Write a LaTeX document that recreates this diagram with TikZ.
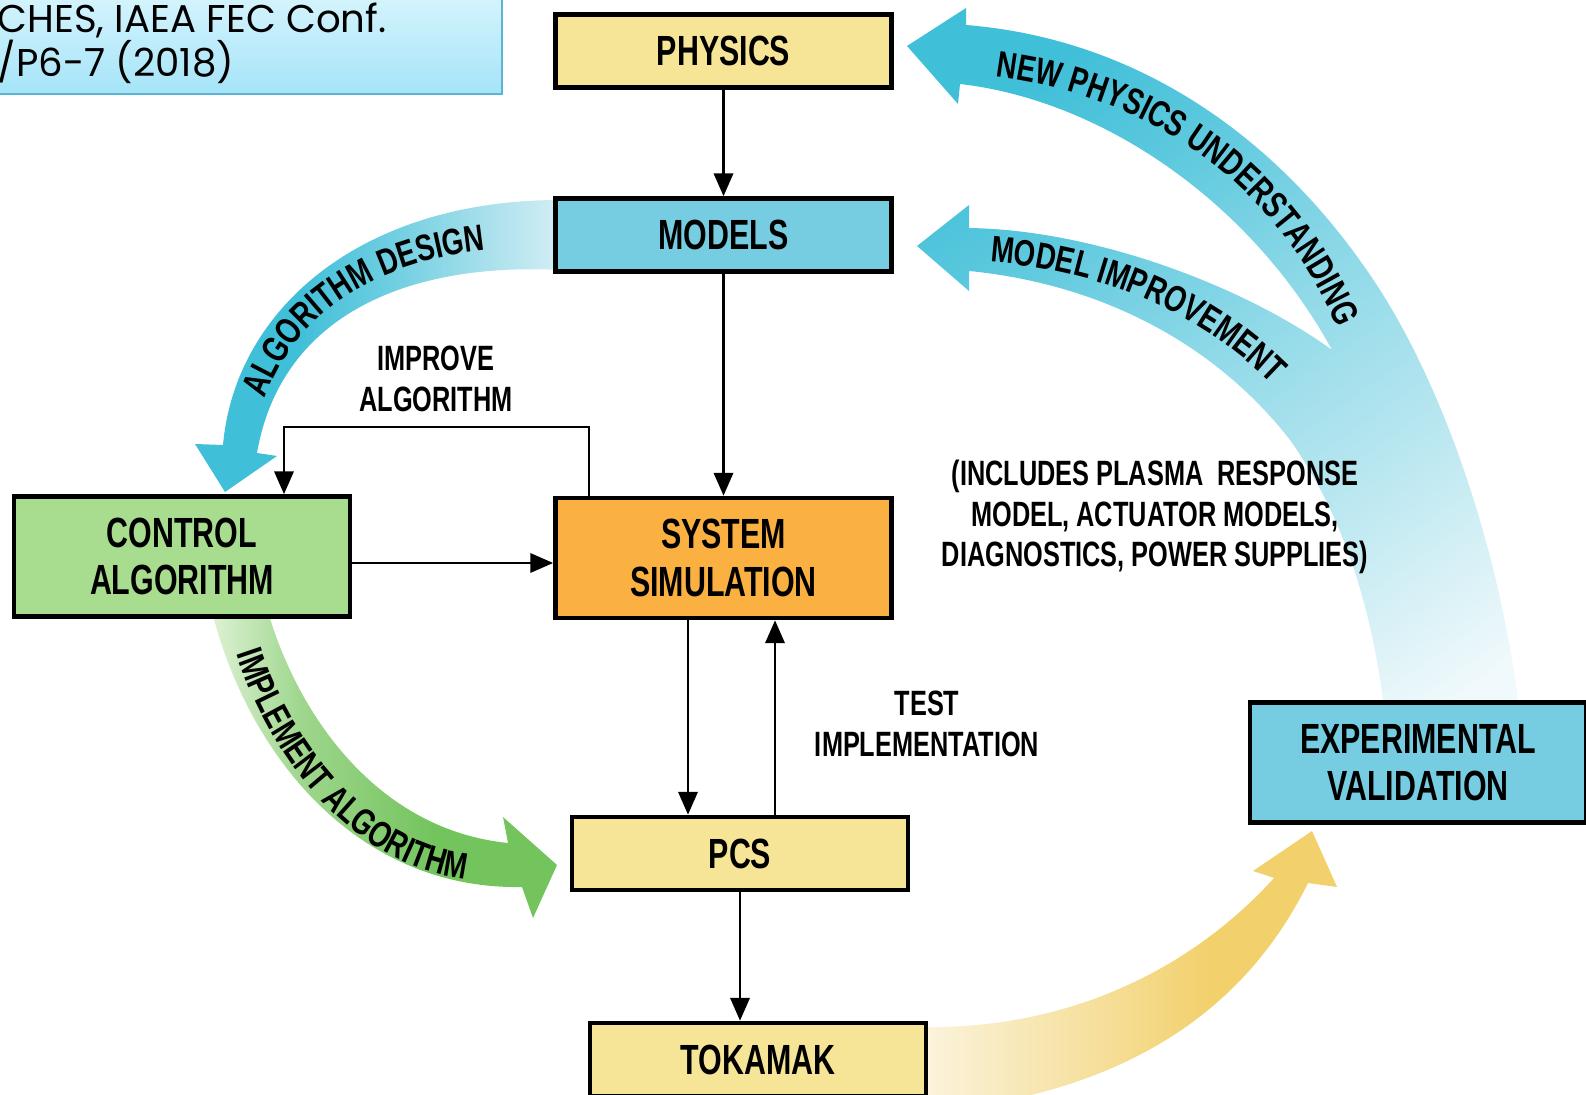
\documentclass[tikz,border=0pt]{standalone}
\usepackage{fontspec}
\setmainfont{Liberation Sans}
\newfontfamily\boxfont[FakeStretch=0.72]{Liberation Sans Bold}
\newfontfamily\arrowfont[FakeStretch=0.75]{Liberation Sans Bold}
\newfontfamily\citefont{Poppins}
\usetikzlibrary{arrows.meta, positioning, calc, decorations.text}
\definecolor{boxyellow}{RGB}{247,229,151}
\definecolor{boxcyan}{RGB}{118,205,226}
\definecolor{boxgreen}{RGB}{168,220,143}
\definecolor{boxorange}{RGB}{251,176,66}
\definecolor{flowcyan}{RGB}{64,191,216}
\definecolor{flowpale}{RGB}{240,249,251}
\definecolor{designpale}{RGB}{212,238,244}
\definecolor{greendark}{RGB}{116,196,94}
\definecolor{greenpale}{RGB}{221,241,211}
\definecolor{golddark}{RGB}{242,208,107}
\definecolor{goldpale}{RGB}{251,244,222}
\definecolor{citetop}{RGB}{216,245,253}
\definecolor{citebottom}{RGB}{165,228,248}
\definecolor{citeedge}{RGB}{90,180,214}
\colorlet{designmid}{flowcyan!65!designpale}
\colorlet{greenmid}{greendark!60!greenpale}
\colorlet{goldmid}{golddark!60!goldpale}
\colorlet{flowlight}{flowcyan!30!flowpale}
\colorlet{flowmid}{flowcyan!55!flowpale}
\colorlet{flowdeep}{flowcyan!85!flowpale}
\pgfdeclarehorizontalshading{designfade}{100bp}{color(0bp)=(flowcyan); color(39bp)=(flowcyan); color(53bp)=(designmid); color(75bp)=(designpale); color(100bp)=(designpale)}
\pgfdeclarehorizontalshading{implfade}{100bp}{color(0bp)=(greenpale); color(25bp)=(greenpale); color(38bp)=(greenmid); color(57bp)=(greendark); color(100bp)=(greendark)}
\pgfdeclarehorizontalshading{goldfade}{100bp}{color(0bp)=(goldpale); color(25bp)=(goldpale); color(47bp)=(goldmid); color(60bp)=(golddark); color(100bp)=(golddark)}
\pgfdeclareverticalshading{feedbackfade}{100bp}{color(0bp)=(flowpale); color(18bp)=(flowpale); color(35bp)=(flowlight); color(50bp)=(flowmid); color(65bp)=(flowdeep); color(75bp)=(flowcyan); color(100bp)=(flowcyan)}

\begin{document}
\begin{tikzpicture}[x=0.01cm, y=-0.01cm,
    block/.style={draw, line width=1.3pt, minimum width=3.36cm, minimum height=0.73cm, inner sep=0pt, align=center, font=\boxfont\fontsize{12}{13.5}\selectfont},
    tallblock/.style={block, minimum height=1.2cm},
    link/.style={-{Triangle[length=6.5pt,width=5.5pt]}, line width=0.7pt},
    note/.style={align=center, font=\boxfont\fontsize{10}{11.5}\selectfont},
    flowtext/.style={decorate, decoration={text along path, text align=center, text={|\arrowfont\fontsize{10.5}{11}\selectfont|#1}}}]
    \useasboundingbox (0,0) rectangle (1586,1095);

    % Wide flow arrows
    \shade[shading=designfade] (225,492) -- (195,444) -- (223,445) .. controls (235,310) and (360,200) .. (560,200) -- (560,270) .. controls (400,262) and (280,320) .. (257,453) -- (277,456) -- cycle;
    \shade[shading=implfade] (212,612) .. controls (250,760) and (360,890) .. (522,887) -- (533,918) -- (557,865) -- (503,817) -- (508,843) .. controls (380,830) and (300,720) .. (268,612) -- cycle;
    \shade[shading=goldfade] (920,1027) .. controls (1080,1030) and (1200,960) .. (1274,878) -- (1253,871) -- (1312,831) -- (1337,887) -- (1308,883) .. controls (1250,1000) and (1150,1070) .. (1010,1100) -- (920,1100) -- cycle;
    \shade[shading=feedbackfade, shading angle=35] (917,246) -- (969,205) -- (969,228) .. controls (1100,230) and (1250,290) .. (1332,350)
        .. controls (1250,200) and (1100,100) .. (960,84) -- (958,104) -- (907,46) -- (966,8) -- (966,25)
        .. controls (1150,40) and (1290,150) .. (1380,290) .. controls (1450,400) and (1500,560) .. (1518,700)
        -- (1383,700) .. controls (1370,600) and (1340,510) .. (1290,440) .. controls (1220,350) and (1110,285) .. (969,271)
        -- (969,291) -- cycle;

    % Texts on the flow arrows
    \path[flowtext={ALGORITHM DESIGN}] (253,452) .. controls (268,318) and (380,246) .. (540,248);
    \path[flowtext={IMPLEMENT ALGORITHM}] (229,630) .. controls (262,755) and (360,882) .. (490,880);
    \path[flowtext={NEW PHYSICS UNDERSTANDING}] (975,74) .. controls (1150,90) and (1285,187) .. (1345,347);
    \path[flowtext={MODEL IMPROVEMENT}] (990,262) .. controls (1100,270) and (1200,312) .. (1272,384);

    % Blocks
    \node[block, fill=boxyellow] (physics) at (723.5,51) {PHYSICS};
    \node[block, fill=boxcyan] (models) at (723.5,235) {MODELS};
    \node[tallblock, fill=boxgreen] (control) at (182,556.5) {CONTROL\\ALGORITHM};
    \node[tallblock, fill=boxorange] (sim) at (723.5,558) {SYSTEM\\SIMULATION};
    \node[block, fill=boxyellow] (pcs) at (740,853.5) {PCS};
    \node[block, fill=boxyellow] (tokamak) at (758,1059.5) {TOKAMAK};
    \node[tallblock, fill=boxcyan] (expval) at (1418,762.5) {EXPERIMENTAL\\VALIDATION};

    % Connectors
    \draw[link] (physics) -- (models);
    \draw[link] (models) -- (sim);
    \coordinate (loop) at (589,427);
    \draw[link] (sim.north -| loop) -- (loop) -| ($(control.north)+(102,0)$);
    \coordinate (feed) at (450,563);
    \draw[link] (control.east |- feed) -- (sim.west |- feed);
    \coordinate (down) at (688,700);
    \coordinate (up) at (775,700);
    \draw[link] (sim.south -| down) -- (pcs.north -| down);
    \draw[link] (pcs.north -| up) -- (sim.south -| up);
    \draw[link] (pcs) -- (pcs.south |- tokamak.north);

    % Labels
    \node[note] (improve) at (436,379) {IMPROVE\\ALGORITHM};
    \node[note] (test) at (927,724) {TEST\\IMPLEMENTATION};
    \node[note] (includes) at (1155,517) {(INCLUDES PLASMA\ \ RESPONSE\\MODEL, ACTUATOR MODELS,\\DIAGNOSTICS, POWER SUPPLIES)};

    % Reference box
    \shade[top color=citetop, bottom color=citebottom, draw=citeedge, line width=0.8pt] (-10,-10) rectangle (502,94);
    \node[anchor=base west, inner sep=0pt, font=\citefont\fontsize{11}{12}\selectfont] (cite1) at (-3,33) {CHES, IAEA FEC Conf.};
    \node[anchor=base west, inner sep=0pt, font=\citefont\fontsize{11}{12}\selectfont] (cite2) at (-3,77) {/P6-7 (2018)};
\end{tikzpicture}
\end{document}
